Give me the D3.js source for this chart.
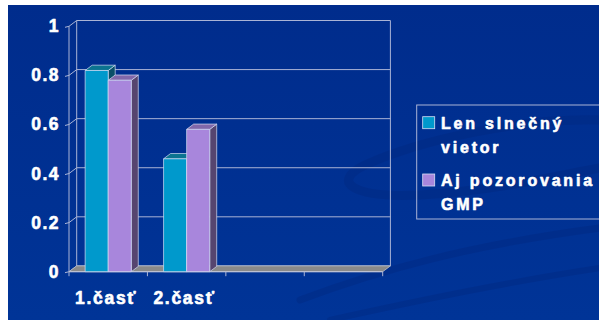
<!DOCTYPE html>
<html>
<head>
<meta charset="utf-8">
<script src="https://cdn.jsdelivr.net/npm/d3@7"></script>
<style>
  html, body { margin: 0; padding: 0; background: #ffffff; }
  svg { display: block; }
  text { font-family: "Liberation Sans", Arial, sans-serif; font-weight: bold; fill: #ffffff;
         stroke: #ffffff; stroke-width: 0.6px; stroke-linejoin: round; }
</style>
</head>
<body>
<svg id="chart" width="599" height="320"></svg>
<script>
// ---- data ----
const categories = ["1.časť", "2.časť", "", ""];
const seriesNames = ["Len slnečný vietor", "Aj pozorovania GMP"];
const legendLines = [["Len slnečný", "vietor"], ["Aj pozorovania", "GMP"]];
const lenSlnecnyVietor = [0.82, 0.46, null, null];
const ajPozorovaniaGMP = [0.78, 0.58, null, null];
const yTicks = [0, 0.2, 0.4, 0.6, 0.8, 1];
const yTickLabels = ["0", "0.2", "0.4", "0.6", "0.8", "1"];

// ---- styling ----
const faceColors = [
  { front: "#0099cc", top: "#0b7390", side: "#0a4f68" },
  { front: "#a886dc", top: "#8168aa", side: "#56456f" }
];
const gridColor = "#aab4d6";

const svg = d3.select("#chart");

// slide background
const defs = svg.append("defs");
const bg = defs.append("linearGradient").attr("id", "bg").attr("x1", 0).attr("y1", 0).attr("x2", 0).attr("y2", 1);
bg.append("stop").attr("offset", "0").attr("stop-color", "#002c8c");
bg.append("stop").attr("offset", "1").attr("stop-color", "#003497");
svg.append("rect").attr("x", 8).attr("y", 5).attr("width", 591).attr("height", 315).attr("fill", "url(#bg)");

// faint decorative swirl
const swirl = svg.append("g").attr("fill", "none").attr("stroke", "#00287f").attr("stroke-linecap", "round").attr("opacity", 0.4);
swirl.append("path").attr("stroke-width", 9)
  .attr("d", "M600,120 C520,118 420,140 365,165 C330,182 352,198 420,195 C500,190 560,175 600,168");
swirl.append("path").attr("stroke-width", 7)
  .attr("d", "M300,300 C380,270 470,245 600,228");
swirl.append("path").attr("stroke-width", 6)
  .attr("d", "M330,320 C420,300 520,280 600,268");

// ---- geometry ----
const plotLeft = 69, plotRight = 382.7, plotBottom = 271.7, plotTop = 26.3;
const depthX = 7.7, depthY = -5.8;          // wall depth offset (front -> back)
const barDX = 7.0, barDY = -5.3;            // column depth offset

const y = d3.scaleLinear().domain([0, 1]).range([plotBottom, plotTop]);
const x = d3.scaleBand().domain(d3.range(categories.length)).range([plotLeft, plotRight]);
const xs = d3.scaleBand().domain([0, 1]).range([0, x.bandwidth()]).paddingOuter(0.7);

const g = svg.append("g");
const line = (x1, y1, x2, y2, color, w) =>
  g.append("line").attr("x1", x1).attr("y1", y1).attr("x2", x2).attr("y2", y2)
    .attr("stroke", color).attr("stroke-width", w || 1);

// back wall gridlines, side-wall diagonals and front ticks
yTicks.forEach(t => {
  const yy = y(t);
  line(plotLeft + depthX, yy + depthY, plotRight + depthX, yy + depthY, gridColor);
  line(plotLeft, yy, plotLeft + depthX, yy + depthY, gridColor);
  line(plotLeft - 4, yy + 1, plotLeft, yy, gridColor);
});
// wall edges
line(plotLeft, y(0), plotLeft, y(1), gridColor);
line(plotLeft + depthX, y(0) + depthY, plotLeft + depthX, y(1) + depthY, gridColor);
line(plotRight + depthX, y(0) + depthY, plotRight + depthX, y(1) + depthY, gridColor);

// floor
g.append("polygon")
  .attr("points", [
    [plotLeft, plotBottom], [plotRight, plotBottom],
    [plotRight + depthX, plotBottom + depthY], [plotLeft + depthX, plotBottom + depthY]
  ].map(p => p.join(",")).join(" "))
  .attr("fill", "#8a8a8a").attr("stroke", "#b9bcc8").attr("stroke-width", 0.8);

// category axis line and ticks
line(plotLeft, plotBottom, plotRight, plotBottom, "#c4c8d8");
x.domain().concat([categories.length]).forEach(i => {
  const xx = i < categories.length ? x(i) : plotRight;
  line(xx, plotBottom, xx, plotBottom + 4.5, gridColor);
});

// 3D columns
const series = [lenSlnecnyVietor, ajPozorovaniaGMP];
const pts = arr => arr.map(p => p.join(",")).join(" ");
categories.forEach((c, i) => {
  series.forEach((vals, s) => {
    const v = vals[i];
    if (v == null) return;
    const x0 = x(i) + xs(s), w = xs.bandwidth(), yt = y(v), yb = y(0);
    const col = faceColors[s];
    const bar = g.append("g").attr("stroke", "#d6def4").attr("stroke-width", 0.7).attr("stroke-linejoin", "round");
    bar.append("polygon").attr("fill", col.side)
      .attr("points", pts([[x0 + w, yt], [x0 + w + barDX, yt + barDY], [x0 + w + barDX, yb + barDY], [x0 + w, yb]]));
    bar.append("polygon").attr("fill", col.top)
      .attr("points", pts([[x0, yt], [x0 + w, yt], [x0 + w + barDX, yt + barDY], [x0 + barDX, yt + barDY]]));
    bar.append("rect").attr("fill", col.front)
      .attr("x", x0).attr("y", yt).attr("width", w).attr("height", yb - yt);
  });
});

// value axis labels
g.selectAll(".ylab").data(yTicks).join("text")
  .attr("class", "ylab")
  .attr("x", 60).attr("y", d => y(d) + 6)
  .attr("text-anchor", "end")
  .style("font-size", "17.5px").style("letter-spacing", "1.5px")
  .text((d, i) => yTickLabels[i]);

// category labels
g.selectAll(".xlab").data(categories).join("text")
  .attr("class", "xlab")
  .attr("x", (d, i) => x(i) + x.bandwidth() / 2 - 2)
  .attr("y", 303.5)
  .attr("text-anchor", "middle")
  .style("font-size", "17.5px").style("letter-spacing", "1.7px")
  .text(d => d);

// legend
const legend = svg.append("g");
legend.append("rect").attr("x", 416.7).attr("y", 105).attr("width", 200).attr("height", 114)
  .attr("fill", "none").attr("stroke", gridColor).attr("stroke-width", 1);
const legendRowY = [116.7, 174];
seriesNames.forEach((name, s) => {
  legend.append("rect").attr("x", 422.7).attr("y", legendRowY[s]).attr("width", 12).attr("height", 12)
    .attr("fill", faceColors[s].front).attr("stroke", "#d6def4").attr("stroke-width", 0.8);
  legendLines[s].forEach((txt, k) => {
    legend.append("text")
      .attr("x", 441).attr("y", legendRowY[s] + 12.3 + k * 23.7)
      .style("font-size", "16px").style("letter-spacing", "2.8px")
      .text(txt);
  });
});
</script>
</body>
</html>
